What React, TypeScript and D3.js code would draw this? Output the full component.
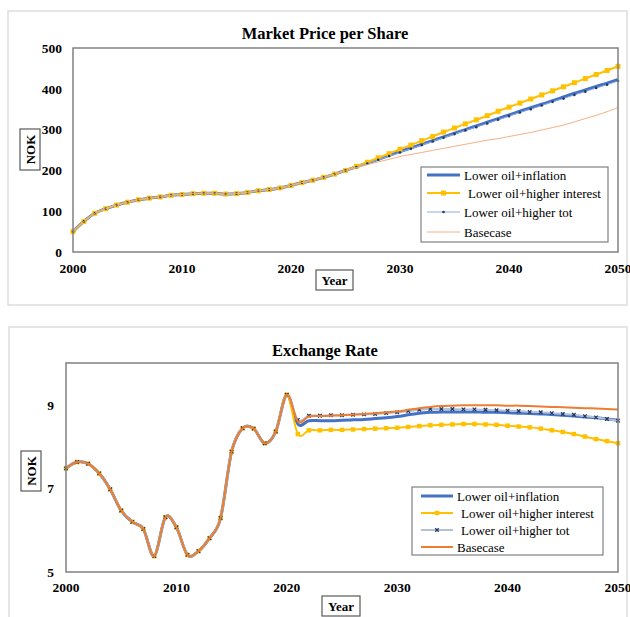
import React from 'react';
import * as d3 from 'd3';

const FONT = '"Liberation Serif", "Times New Roman", serif';

// years on the x axis
const years = d3.range(2000, 2051);

// ---- Market price per share (NOK) ----
const priceHistory = [50, 75, 95, 106, 115, 122, 128, 132, 135, 139, 141, 143, 144, 144, 142, 143, 146, 150, 153, 157, 163, 170, 176, 183, 191, 200];
const priceInflation = [...priceHistory, 209, 218, 227, 237, 246, 255, 264, 273, 282, 291, 300, 309, 318, 327, 336, 345, 354, 362, 371, 380, 389, 397, 406, 414, 423];
const priceInterest = [...priceHistory, 210, 220, 231, 241, 252, 262, 273, 283, 294, 304, 314, 324, 334, 345, 355, 365, 375, 385, 395, 405, 415, 425, 435, 445, 455];
const priceTot = [...priceHistory, 208, 217, 226, 235, 244, 253, 262, 271, 280, 289, 298, 306, 315, 324, 333, 342, 350, 359, 368, 376, 385, 393, 402, 410, 419];
const priceBase = [...priceHistory, 207, 214, 221, 227, 234, 239, 244, 249, 254, 259, 264, 269, 274, 278, 283, 288, 293, 299, 305, 311, 319, 327, 335, 344, 354];
const priceTicks = [0, 100, 200, 300, 400, 500];

// ---- Exchange rate (NOK) ----
const fxHistory = [7.48, 7.63, 7.59, 7.36, 6.98, 6.47, 6.2, 6.03, 5.38, 6.31, 6.07, 5.41, 5.5, 5.81, 6.29, 7.88, 8.44, 8.43, 8.08, 8.36, 9.24];
const fxInflation = [...fxHistory, 8.54, 8.62, 8.62, 8.62, 8.63, 8.64, 8.65, 8.67, 8.69, 8.72, 8.76, 8.8, 8.82, 8.83, 8.83, 8.83, 8.83, 8.82, 8.82, 8.81, 8.8, 8.79, 8.78, 8.77, 8.75, 8.73, 8.71, 8.69, 8.66, 8.63];
const fxInterest = [...fxHistory, 8.3, 8.39, 8.39, 8.4, 8.4, 8.41, 8.42, 8.43, 8.44, 8.45, 8.47, 8.49, 8.51, 8.52, 8.53, 8.54, 8.54, 8.53, 8.52, 8.5, 8.48, 8.46, 8.43, 8.39, 8.35, 8.3, 8.24, 8.18, 8.13, 8.08];
const fxTot = [...fxHistory, 8.64, 8.74, 8.74, 8.75, 8.75, 8.76, 8.77, 8.78, 8.8, 8.82, 8.85, 8.88, 8.9, 8.9, 8.9, 8.89, 8.89, 8.88, 8.87, 8.86, 8.85, 8.83, 8.82, 8.8, 8.78, 8.76, 8.73, 8.7, 8.66, 8.62];
const fxBase = [...fxHistory, 8.6, 8.72, 8.73, 8.74, 8.75, 8.77, 8.78, 8.8, 8.82, 8.84, 8.88, 8.92, 8.95, 8.97, 8.98, 8.99, 8.99, 8.99, 8.99, 8.98, 8.98, 8.97, 8.96, 8.95, 8.94, 8.93, 8.92, 8.91, 8.9, 8.89];
const fxTicks = [5, 7, 9];

const xTicks = [2000, 2010, 2020, 2030, 2040, 2050];
const seriesNames = ['Lower oil+inflation', 'Lower oil+higher interest', 'Lower oil+higher tot', 'Basecase'];

type Series = {
  name: string;
  values: number[];
  color: string;
  width: number;
  marker?: 'square' | 'dot' | 'x';
  markerColor?: string;
  markerSize?: number;
};

type PanelProps = {
  title: string;
  frame: { x: number; y: number; w: number; h: number };
  plot: { l: number; r: number; t: number; b: number };
  yDomain: [number, number];
  yTicks: number[];
  series: Series[];
  titleY: number;
  yLabelX: number;
  xLabelY: number;
  nokBox: { x: number; y: number; w: number; h: number };
  yearBox: { x: number; y: number; w: number; h: number };
  legend: { x: number; y: number; w: number; h: number; rows: number[]; sx0: number; sx1: number; tx: number };
};

function Marker({ kind, cx, cy, color, size }: { kind: string; cx: number; cy: number; color: string; size: number }) {
  if (kind === 'square') {
    return <rect x={cx - size / 2} y={cy - size / 2} width={size} height={size} fill={color} />;
  }
  if (kind === 'dot') {
    return <circle cx={cx} cy={cy} r={size / 2} fill={color} />;
  }
  const h = size / 2;
  return (
    <path d={`M${cx - h},${cy - h}L${cx + h},${cy + h}M${cx - h},${cy + h}L${cx + h},${cy - h}`} stroke={color} strokeWidth={1.3} />
  );
}

function Panel(p: PanelProps) {
  const x = d3.scaleLinear().domain([2000, 2050]).range([p.plot.l, p.plot.r]);
  const y = d3.scaleLinear().domain(p.yDomain).range([p.plot.b, p.plot.t]);
  const line = d3
    .line<number>()
    .x((d, i) => x(years[i]))
    .y((d) => y(d))
    .curve(d3.curveCatmullRom.alpha(0));

  const lg = p.legend;
  return (
    <g>
      <rect x={p.frame.x} y={p.frame.y} width={p.frame.w} height={p.frame.h} fill="#fff" stroke="#d9d9d9" strokeWidth={1.3} />
      <text x={325} y={p.titleY} textAnchor="middle" dy="0.35em" fontFamily={FONT} fontWeight="bold" fontSize={16.5}>
        {p.title}
      </text>

      {/* series */}
      {p.series.map((s) => (
        <g key={s.name}>
          <path d={line(s.values) || ''} fill="none" stroke={s.color} strokeWidth={s.width} />
          {s.marker &&
            s.values.map((v, i) => (
              <Marker key={i} kind={s.marker!} cx={x(years[i])} cy={y(v)} color={s.markerColor || s.color} size={s.markerSize || 4} />
            ))}
        </g>
      ))}

      <rect
        x={p.plot.l}
        y={p.plot.t}
        width={p.plot.r - p.plot.l}
        height={p.plot.b - p.plot.t}
        fill="none"
        stroke="#808080"
        strokeWidth={1.5}
      />

      {/* y tick labels */}
      {p.yTicks.map((t) => (
        <text key={t} x={p.yLabelX} y={y(t)} dy="0.35em" textAnchor="end" fontFamily={FONT} fontWeight="bold" fontSize={13.5}>
          {t}
        </text>
      ))}
      {/* x tick labels */}
      {xTicks.map((t) => (
        <text key={t} x={x(t)} y={p.xLabelY} dy="0.35em" textAnchor="middle" fontFamily={FONT} fontWeight="bold" fontSize={13.5}>
          {t}
        </text>
      ))}

      {/* axis titles */}
      <rect x={p.nokBox.x} y={p.nokBox.y} width={p.nokBox.w} height={p.nokBox.h} fill="#fff" stroke="#595959" strokeWidth={1.2} />
      <text
        transform={`translate(${p.nokBox.x + p.nokBox.w / 2},${p.nokBox.y + p.nokBox.h / 2}) rotate(-90)`}
        dy="0.35em"
        textAnchor="middle"
        fontFamily={FONT}
        fontWeight="bold"
        fontSize={13}
      >
        NOK
      </text>
      <rect x={p.yearBox.x} y={p.yearBox.y} width={p.yearBox.w} height={p.yearBox.h} fill="#fff" stroke="#595959" strokeWidth={1.2} />
      <text
        x={p.yearBox.x + p.yearBox.w / 2}
        y={p.yearBox.y + p.yearBox.h / 2}
        dy="0.35em"
        textAnchor="middle"
        fontFamily={FONT}
        fontWeight="bold"
        fontSize={13}
      >
        Year
      </text>

      {/* legend */}
      <rect x={lg.x} y={lg.y} width={lg.w} height={lg.h} fill="#fff" stroke="#808080" strokeWidth={1.2} />
      {p.series.map((s, i) => (
        <g key={s.name}>
          <line x1={lg.sx0} x2={lg.sx1} y1={lg.rows[i]} y2={lg.rows[i]} stroke={s.color} strokeWidth={s.width} />
          {s.marker && (
            <Marker kind={s.marker} cx={(lg.sx0 + lg.sx1) / 2} cy={lg.rows[i]} color={s.markerColor || s.color} size={s.markerSize || 4} />
          )}
          <text x={lg.tx + (i === 1 || (i === 2 && s.marker === 'x') ? 4 : 0)} y={lg.rows[i]} dy="0.35em" fontFamily={FONT} fontSize={13}>
            {s.name}
          </text>
        </g>
      ))}
    </g>
  );
}

export default function App() {
  const priceSeries: Series[] = [
    { name: seriesNames[0], values: priceInflation, color: '#4472c4', width: 3 },
    { name: seriesNames[1], values: priceInterest, color: '#ffc000', width: 2, marker: 'square', markerSize: 5 },
    { name: seriesNames[2], values: priceTot, color: '#8faadc', width: 1, marker: 'dot', markerColor: '#203864', markerSize: 2.6 },
    { name: seriesNames[3], values: priceBase, color: '#f4b183', width: 1 },
  ];
  const fxSeries: Series[] = [
    { name: seriesNames[0], values: fxInflation, color: '#4472c4', width: 3 },
    { name: seriesNames[1], values: fxInterest, color: '#ffc000', width: 2, marker: 'square', markerSize: 4.5 },
    { name: seriesNames[2], values: fxTot, color: '#b4c0d6', width: 2, marker: 'x', markerColor: '#203864', markerSize: 3.5 },
    { name: seriesNames[3], values: fxBase, color: '#ed7d31', width: 2 },
  ];

  return (
    <svg width={630} height={617} style={{ position: 'absolute', left: 0, top: 0, background: '#fff' }}>
      <rect width={630} height={617} fill="#fff" />
      <Panel
        title="Market Price per Share"
        frame={{ x: 8, y: 11, w: 619, h: 294 }}
        plot={{ l: 73, r: 618, t: 48, b: 252 }}
        yDomain={[0, 500]}
        yTicks={priceTicks}
        series={priceSeries}
        titleY={33}
        yLabelX={62}
        xLabelY={268}
        nokBox={{ x: 20, y: 129, w: 20, h: 41 }}
        yearBox={{ x: 316, y: 270, w: 37, h: 20 }}
        legend={{ x: 421, y: 167, w: 187, h: 75, rows: [175, 193, 212, 232], sx0: 427, sx1: 460, tx: 464 }}
      />
      <Panel
        title="Exchange Rate"
        frame={{ x: 9, y: 327, w: 618, h: 300 }}
        plot={{ l: 66, r: 618, t: 363, b: 572 }}
        yDomain={[5, 10]}
        yTicks={fxTicks}
        series={fxSeries}
        titleY={350}
        yLabelX={54}
        xLabelY={587}
        nokBox={{ x: 21, y: 451, w: 20, h: 40 }}
        yearBox={{ x: 322, y: 596, w: 38, h: 20 }}
        legend={{ x: 412, y: 487, w: 191, h: 68, rows: [496, 513, 530, 547], sx0: 421, sx1: 453, tx: 457 }}
      />
    </svg>
  );
}
